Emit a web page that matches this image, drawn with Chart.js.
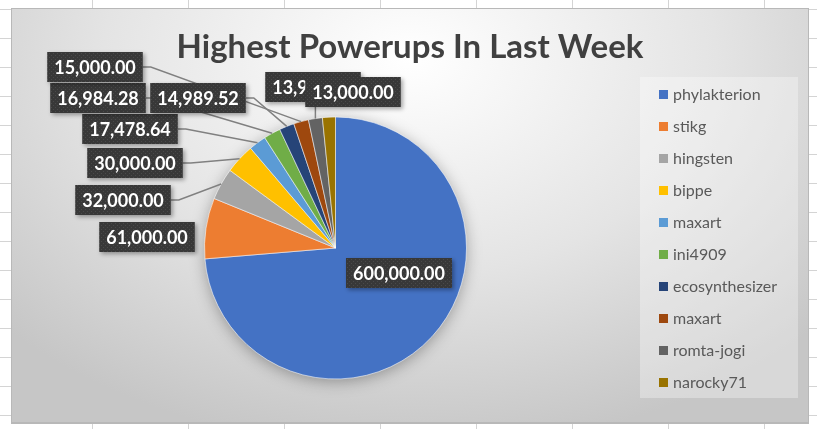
<!DOCTYPE html>
<html>
<head>
<meta charset="utf-8">
<script src="https://cdn.jsdelivr.net/npm/chart.js@4/dist/chart.umd.min.js"></script>
<style>
    html, body {
        margin: 0;
        padding: 0;
        width: 817px;
        height: 429px;
        overflow: hidden;
        background-color: #fff;
        background-image:
            linear-gradient(to right, #d4d4d4 1px, transparent 1px),
            linear-gradient(to bottom, #d4d4d4 1px, transparent 1px);
        background-size: 96px 29px;
        background-position: 92px 9px;
    }
    #chartBox {
        position: absolute;
        left: 11px;
        top: 8px;
        width: 796px;
        height: 413px;
        border: 1px solid #b8b8b8;
        border-bottom: 2px solid #b8b8b8;
        background: radial-gradient(ellipse 70% 95% at 50% 12%, #ffffff 0%, #e4e4e4 55%, #c6c6c6 100%);
    }
    #powerupsChart {
        position: absolute;
        left: 0;
        top: 0;
    }
</style>
</head>
<body>
<div id="chartBox"></div>
<canvas id="powerupsChart" width="817" height="429"></canvas>
<script>
const users = ['phylakterion', 'stikg', 'hingsten', 'bippe', 'maxart', 'ini4909',
    'ecosynthesizer', 'maxart', 'romta-jogi', 'narocky71'];
const powerups = [600000, 61000, 32000, 30000, 17478.64, 16984.28, 14989.52, 15000, 13950, 13000];
const sliceColors = ['#4472C4', '#ED7D31', '#A5A5A5', '#FFC000', '#5B9BD5', '#70AD47',
    '#264478', '#9E480E', '#636363', '#997300'];
const chartTitle = 'Highest Powerups In Last Week';

// where Excel placed each data label box (center, canvas px)
const calloutCenters = [
    [399, 273], [147, 237], [123, 200], [135, 163], [130, 129],
    [98, 98], [198, 98], [95, 67], [313, 87], [353, 92],
];

const fmt = (v) => v.toLocaleString('en-US', { minimumFractionDigits: 2, maximumFractionDigits: 2 });

function makeDotPattern(ctx) {
    const tile = document.createElement('canvas');
    tile.width = 4;
    tile.height = 4;
    const t = tile.getContext('2d');
    t.fillStyle = '#383838';
    t.fillRect(0, 0, 4, 4);
    t.fillStyle = '#4a4a4a';
    t.fillRect(1, 1, 1, 1);
    t.fillRect(3, 3, 1, 1);
    return ctx.createPattern(tile, 'repeat');
}

const pieShadow = {
    id: 'pieShadow',
    beforeDatasetsDraw(chart) {
        const arc = chart.getDatasetMeta(0).data[0];
        if (!arc) return;
        const { x, y, outerRadius } = arc.getProps(['x', 'y', 'outerRadius'], true);
        const ctx = chart.ctx;
        ctx.save();
        ctx.shadowColor = 'rgba(0,0,0,0.35)';
        ctx.shadowBlur = 16;
        ctx.shadowOffsetY = 3;
        ctx.fillStyle = '#4472C4';
        ctx.beginPath();
        ctx.arc(x, y, outerRadius - 1, 0, Math.PI * 2);
        ctx.fill();
        ctx.restore();
    },
};

const callouts = {
    id: 'callouts',
    afterDatasetsDraw(chart) {
        const ctx = chart.ctx;
        const meta = chart.getDatasetMeta(0);
        const values = chart.data.datasets[0].data;
        ctx.save();
        ctx.font = 'bold 18px Lato';
        const boxes = values.map((v, i) => {
            const text = fmt(v);
            const w = ctx.measureText(text).width + 14;
            const h = 30;
            const [cx, cy] = calloutCenters[i];
            return { text, left: cx - w / 2, top: cy - h / 2, w, h, cx, cy };
        });

        // leader lines (none when the label sits on or next to its slice)
        ctx.strokeStyle = '#808080';
        ctx.lineWidth = 1.5;
        meta.data.forEach((arc, i) => {
            const p = arc.getProps(['x', 'y', 'startAngle', 'endAngle', 'outerRadius'], true);
            const b = boxes[i];
            if (Math.hypot(b.cx - p.x, b.cy - p.y) < p.outerRadius) return;
            const mid = (p.startAngle + p.endAngle) / 2;
            const px = p.x + Math.cos(mid) * p.outerRadius;
            const py = p.y + Math.sin(mid) * p.outerRadius;
            const dx = Math.max(b.left - px, 0, px - (b.left + b.w));
            const dy = Math.max(b.top - py, 0, py - (b.top + b.h));
            if (Math.hypot(dx, dy) < 15) return;
            ctx.beginPath();
            if (px > b.left + 4 && px < b.left + b.w - 4) {
                ctx.moveTo(px, py < b.top ? b.top : b.top + b.h);
                ctx.lineTo(px, py);
            } else {
                const sx = px > b.cx ? b.left + b.w : b.left;
                const dir = px > b.cx ? 1 : -1;
                ctx.moveTo(sx, b.cy);
                ctx.lineTo(sx + dir * 8, b.cy);
                ctx.lineTo(px, py);
            }
            ctx.stroke();
        });

        // label boxes
        const pattern = makeDotPattern(ctx);
        boxes.forEach((b) => {
            ctx.save();
            ctx.shadowColor = 'rgba(0,0,0,0.35)';
            ctx.shadowBlur = 4;
            ctx.shadowOffsetX = 2;
            ctx.shadowOffsetY = 2;
            ctx.fillStyle = pattern;
            ctx.fillRect(b.left, b.top, b.w, b.h);
            ctx.restore();
            ctx.fillStyle = '#ffffff';
            ctx.textAlign = 'center';
            ctx.textBaseline = 'middle';
            ctx.fillText(b.text, b.cx, b.cy + 1);
        });
        ctx.restore();
    },
};

const titleAndLegend = {
    id: 'titleAndLegend',
    afterDraw(chart) {
        const ctx = chart.ctx;
        ctx.save();
        ctx.fillStyle = '#404040';
        ctx.font = 'bold 33px Lato';
        ctx.textAlign = 'center';
        ctx.textBaseline = 'middle';
        ctx.fillText(chartTitle, 410, 47);

        ctx.fillStyle = 'rgba(255,255,255,0.32)';
        ctx.fillRect(640, 77, 158, 321);
        ctx.font = '16px Lato';
        ctx.textAlign = 'left';
        const colors = chart.data.datasets[0].backgroundColor;
        chart.data.labels.forEach((label, i) => {
            const y = 95 + i * 32;
            ctx.fillStyle = colors[i];
            ctx.fillRect(659, y - 5, 9, 9);
            ctx.fillStyle = '#595959';
            ctx.fillText(label, 673, y);
        });
        ctx.restore();
    },
};

new Chart(document.getElementById('powerupsChart'), {
    type: 'pie',
    data: {
        labels: users,
        datasets: [{
            data: powerups,
            backgroundColor: sliceColors,
            borderColor: 'rgba(255,255,255,0.55)',
            borderWidth: 1,
            hoverOffset: 0,
        }],
    },
    options: {
        responsive: false,
        animation: false,
        devicePixelRatio: 1,
        layout: {
            padding: { left: 204, right: 350, top: 110, bottom: 43 },
        },
        plugins: {
            legend: { display: false },
            title: { display: false },
            tooltip: { enabled: false },
        },
    },
    plugins: [pieShadow, callouts, titleAndLegend],
});
</script>
</body>
</html>
